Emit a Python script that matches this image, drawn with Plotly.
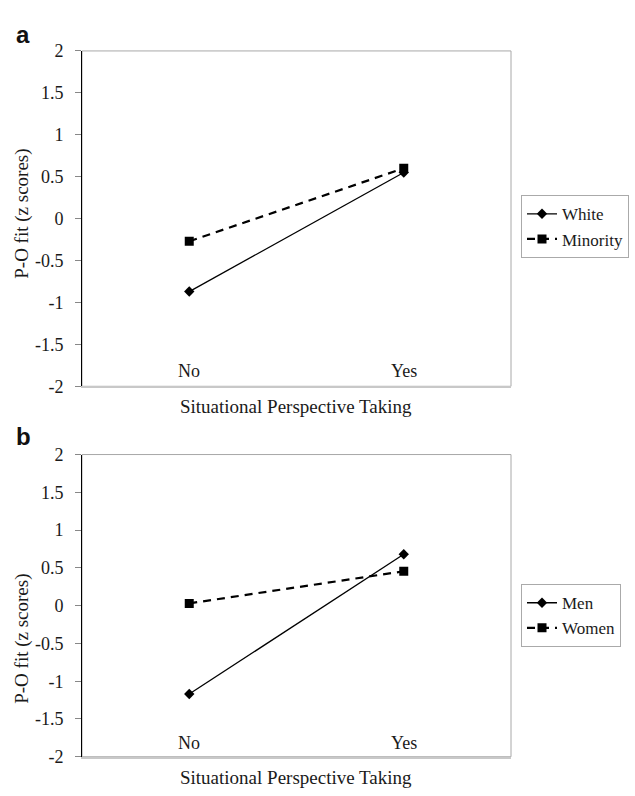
import plotly.graph_objects as go

categories = ["No", "Yes"]
white = [-0.87, 0.55]
minority = [-0.27, 0.60]
men = [-1.17, 0.68]
women = [0.03, 0.455]
y_ticks = [-2, -1.5, -1, -0.5, 0, 0.5, 1, 1.5, 2]
y_tick_text = ["-2", "-1.5", "-1", "-0.5", "0", "0.5", "1", "1.5", "2"]
panel_labels = ["a", "b"]
x_title = "Situational Perspective Taking"
y_title = "P-O fit (z scores)"

W, H = 635, 796
SERIF = "Liberation Serif, Times New Roman, serif"
TXT = "#1a1a1a"

def px(v):
    return v / W

def py(v):
    return 1 - v / H

xdom = [px(82), px(511)]
ydom_a = [py(386), py(42)]
ydom_b = [py(766), py(456)]

fig = go.Figure()

def add_pair(xa, ya, leg, s1, n1, s2, n2):
    fig.add_trace(go.Scatter(
        x=categories, y=s1, name=n1, xaxis=xa, yaxis=ya, legend=leg,
        mode="lines+markers",
        line=dict(color="black", width=1.3),
        marker=dict(symbol="diamond", size=8, color="black"),
    ))
    fig.add_trace(go.Scatter(
        x=categories, y=s2, name=n2, xaxis=xa, yaxis=ya, legend=leg,
        mode="lines+markers",
        line=dict(color="black", width=2.2, dash="8px,6px"),
        marker=dict(symbol="square", size=9, color="black"),
    ))

add_pair("x", "y", "legend", white, "White", minority, "Minority")
add_pair("x2", "y2", "legend2", men, "Men", women, "Women")

xcommon = dict(type="category", range=[-0.5, 1.5], showgrid=False, zeroline=False,
               showticklabels=False, ticks="", showline=True, linecolor="#c8c8c8",
               linewidth=2, fixedrange=True)
ycommon = dict(range=[-2, 2], tickvals=y_ticks, ticktext=y_tick_text, showgrid=False,
               zeroline=False, ticks="outside", ticklen=6, tickcolor="#888",
               ticklabelstandoff=8, fixedrange=True,
               showline=True, linecolor="black", linewidth=1,
               tickfont=dict(family=SERIF, size=18, color=TXT))

legcommon = dict(font=dict(family=SERIF, size=17, color=TXT), bordercolor="#aaa",
                 borderwidth=1, bgcolor="white", xanchor="left", yanchor="top",
                 itemclick=False)

fig.update_layout(
    width=W, height=H, margin=dict(l=0, r=0, t=0, b=0),
    paper_bgcolor="white", plot_bgcolor="white",
    xaxis=dict(domain=xdom, anchor="y", **xcommon),
    yaxis=dict(domain=ydom_a, anchor="x", **ycommon),
    xaxis2=dict(domain=xdom, anchor="y2", **xcommon),
    yaxis2=dict(domain=ydom_b, anchor="x2", **ycommon),
    legend=dict(x=px(521), y=py(190), **legcommon),
    legend2=dict(x=px(521), y=py(589), **legcommon),
)

shapes = []
for ydom in (ydom_a, ydom_b):
    shapes.append(dict(type="rect", xref="paper", yref="paper", x0=xdom[0], x1=xdom[1],
                       y0=ydom[0], y1=ydom[1], line=dict(color="#a8a8a8", width=1),
                       layer="below"))
fig.update_layout(shapes=shapes)

ann = []
for xr, yr in (("x", "y domain"), ("x2", "y2 domain")):
    for c in categories:
        ann.append(dict(x=c, y=0.047, xref=xr, yref=yr, text=c, showarrow=False,
                        yanchor="middle", font=dict(family=SERIF, size=18, color=TXT)))
# x titles
for yc in (407, 787):
    ann.append(dict(x=px(296), y=py(yc), xref="paper", yref="paper", text=x_title,
                    showarrow=False, yanchor="middle",
                    font=dict(family=SERIF, size=19, color=TXT)))
# y titles
for yc in (209, 645):
    ann.append(dict(x=px(22), y=py(yc), xref="paper", yref="paper", text=y_title,
                    showarrow=False, textangle=-90, xanchor="center", yanchor="middle",
                    font=dict(family=SERIF, size=19, color=TXT)))
# panel labels
for lab, yc in zip(panel_labels, (25, 437)):
    ann.append(dict(x=px(14), y=py(yc), xref="paper", yref="paper", text="<b>" + lab + "</b>",
                    showarrow=False, xanchor="left", yanchor="middle",
                    font=dict(family="Liberation Sans, Arial, sans-serif", size=24, color="#111")))
fig.update_layout(annotations=ann)

fig.write_html("out.html", config={"displayModeBar": False},
               post_script="document.body.style.margin='0px';")
